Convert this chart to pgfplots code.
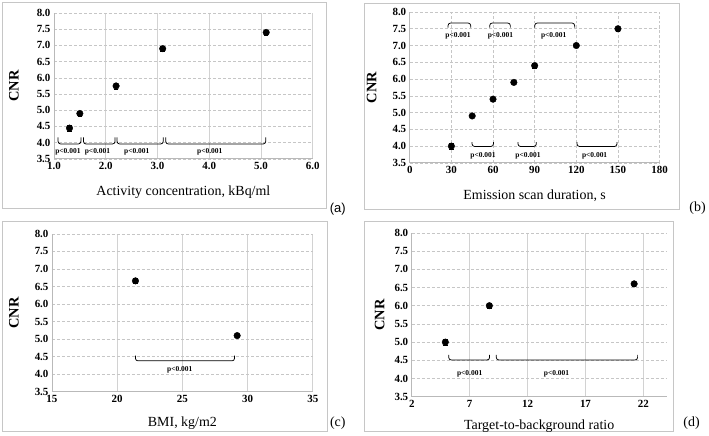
\documentclass[border=0pt]{standalone}
\usepackage{pgfplots}
\pgfplotsset{compat=1.18}
\usepackage{fontspec}
\setmainfont{Liberation Serif}
\newfontfamily\arialfont{Liberation Sans}
\pgfplotsset{
 panel/.style={
  scale only axis, anchor=south west,
  ymin=3.5, ymax=8, ytick={3.5,4,...,8},
  axis x line=bottom, axis y line=left,
  axis line style={draw=gray!55, line width=0.8pt, -},
  major tick length=0pt,
  ymajorgrids, xmajorgrids,
  y grid style={gray!45, densely dashed, line width=0.6pt},
  x grid style={gray!35, line width=0.7pt},
  /pgf/number format/assume math mode=true,
  ticklabel style={font=\bfseries\fontsize{11}{13}\selectfont},
  yticklabel style={/pgf/number format/.cd, fixed, fixed zerofill, precision=1},
  xlabel style={font=\fontsize{14}{16}\selectfont, at={(axis description cs:0.5,0)}, anchor=center, yshift=-33bp},
  ylabel={CNR},
  ylabel style={font=\bfseries\fontsize{14.5}{16}\selectfont, at={(axis description cs:0,0.5)}, anchor=center, yshift=38bp},
  clip=false,
 },
 pts/.style={only marks, mark=*, mark size=3.3pt, black,
   error bars/.cd, y dir=both, y explicit,
   error bar style={black, line width=0.6pt},
   error mark options={rotate=90, mark size=2.2pt, black, line width=0.6pt}},
}
\newcommand{\lbr}[4]{% x1,x2,ybottom,ytop
 \draw[black, line width=0.75pt, rounded corners=2.5pt] (axis cs:#1,#4) -- (axis cs:#1,#3) -- (axis cs:#2,#3) -- (axis cs:#2,#4);}
\newcommand{\plab}[2]{\node[font=\fontsize{7.5}{8}\selectfont\bfseries, inner sep=0pt] at (axis cs:#1,#2) {p<0.001};}
\begin{document}
\begin{tikzpicture}
\path (0bp,0bp) rectangle (709bp,433bp);
% frames
\draw[gray!45, line width=0.9pt] (2bp,224bp) rectangle (327bp,431bp);
\draw[gray!45, line width=0.9pt] (365bp,223bp) rectangle (680bp,430bp);
\draw[gray!45, line width=0.9pt] (2bp,1bp) rectangle (328bp,211bp);
\draw[gray!45, line width=0.9pt] (365bp,1bp) rectangle (674bp,211bp);
\node[font=\arialfont\fontsize{13}{15}\selectfont] at (338bp,224bp) {(a)};
\node[font=\fontsize{14}{16}\selectfont] at (698bp,225bp) {(b)};
\node[font=\fontsize{14}{16}\selectfont] at (338bp,10bp) {(c)};
\node[font=\fontsize{14}{16}\selectfont] at (692bp,10bp) {(d)};

% (a)
\begin{axis}[panel, at={(54bp,274bp)}, width=259bp, height=146bp,
  xmin=1, xmax=6, xtick={1,2,...,6},
  xticklabel style={/pgf/number format/.cd, fixed, fixed zerofill, precision=1},
  xlabel={Activity concentration, kBq/ml}, ylabel style={yshift=2bp}]
\addplot[pts] coordinates {(1.3,4.45) +- (0,0.09) (1.5,4.9) +- (0,0.08) (2.2,5.75) +- (0,0.09) (3.1,6.9) +- (0,0.08) (5.1,7.4) +- (0,0.08)};
\lbr{1.08}{1.52}{3.96}{4.16}\plab{1.27}{3.72}
\lbr{1.57}{2.18}{3.96}{4.16}\plab{1.84}{3.72}
\lbr{2.22}{3.11}{3.96}{4.16}\plab{2.6}{3.72}
\lbr{3.16}{5.09}{3.96}{4.16}\plab{4.01}{3.72}
\end{axis}

% (b)
\begin{axis}[panel, at={(410bp,270bp)}, width=250bp, height=151bp,
  xmin=0, xmax=180, xtick={0,30,...,180},
  x grid style={gray!45, densely dashed, line width=0.6pt},
  xlabel={Emission scan duration, s}]
\addplot[pts] coordinates {(30,4.0) +- (0,0.08) (45,4.9) +- (0,0.05) (60,5.4) +- (0,0.07) (75,5.9) +- (0,0.06) (90,6.4) +- (0,0.07) (120,7.0) +- (0,0.06) (150,7.5) +- (0,0.07)};
\lbr{27.6}{43.9}{7.67}{7.53}\plab{34.8}{7.28}
\lbr{57.6}{72.5}{7.67}{7.53}\plab{65.3}{7.28}
\lbr{90}{118.8}{7.67}{7.53}\plab{103.7}{7.28}
\lbr{44.9}{60.3}{3.99}{4.12}\plab{52.8}{3.72}
\lbr{78}{91.2}{3.99}{4.12}\plab{85.2}{3.72}
\lbr{120.5}{149.3}{3.99}{4.12}\plab{133.2}{3.72}
\end{axis}

% (c)
\begin{axis}[panel, at={(52bp,41bp)}, width=261bp, height=158bp,
  xmin=15, xmax=35, xtick={15,20,...,35},
  xlabel={BMI, kg/m2}, xlabel style={yshift=2bp}]
\addplot[pts] coordinates {(21.4,6.66) +- (0,0.07) (29.2,5.1) +- (0,0.06)};
\lbr{21.4}{29.0}{4.38}{4.53}\plab{24.8}{4.12}
\end{axis}

% (d)
\begin{axis}[panel, at={(412bp,36bp)}, width=255bp, height=164bp,
  xmin=2, xmax=24, xtick={2,7,12,17,22},
  xlabel={Target-to-background ratio}, xlabel style={yshift=4bp},
  ylabel style={yshift=-6bp}]
\addplot[pts] coordinates {(4.9,5.0) +- (0,0.08) (8.7,6.0) +- (0,0.06) (21.2,6.6) +- (0,0.08)};
\lbr{5.19}{8.72}{4.51}{4.65}\plab{7.0}{4.14}
\lbr{9.3}{21.5}{4.51}{4.65}\plab{14.5}{4.14}
\end{axis}
\end{tikzpicture}
\end{document}
